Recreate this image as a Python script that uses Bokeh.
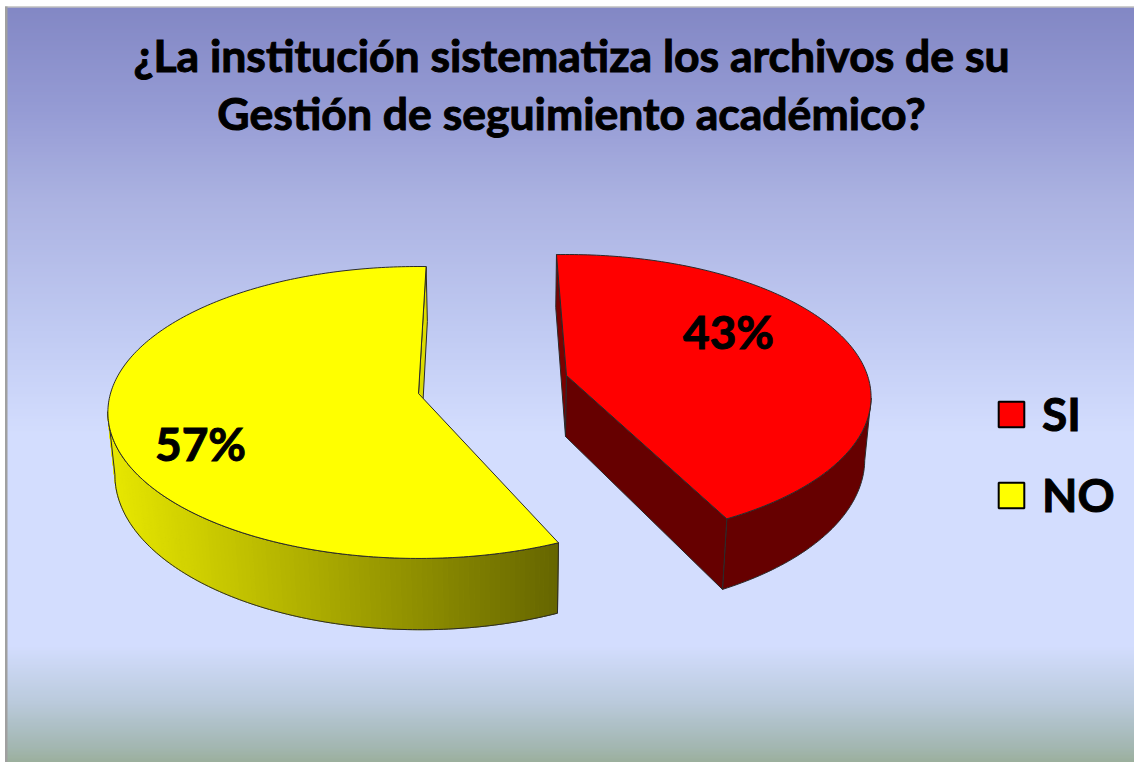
import numpy as np
from bokeh.embed import file_html
from bokeh.resources import INLINE
from bokeh.plotting import figure
from bokeh.models import Range1d, Legend, LegendItem
from bokeh.core.properties import value

# ---- data ----
title_lines = ["¿La institución sistematiza los archivos de su", "Gestión de seguimiento académico?"]
categories = ["SI", "NO"]
shares = [43, 57]
colors = ["#ff0000", "#ffff00"]

# ---- style / layout ----
FONT = "Lato"
bg_y = [7, 110, 200, 330, 430, 645, 700, 745, 762]
bg_r = [131, 150, 172, 193, 211, 211, 187, 163, 155]
bg_g = [136, 156, 179, 203, 221, 221, 203, 183, 175]
bg_b = [197, 213, 226, 243, 254, 254, 221, 178, 155]

p = figure(width=1134, height=762, x_range=Range1d(0, 1134), y_range=Range1d(762, 0),
           toolbar_location=None, output_backend="svg", min_border=0,
           x_axis_location=None, y_axis_location=None, outline_line_color=None,
           background_fill_color="white", border_fill_color="white")
p.grid.visible = False

# background gradient
ys = np.arange(7, 762, 2.0)
hex_bg = ["#%02x%02x%02x" % (int(np.interp(y, bg_y, bg_r)), int(np.interp(y, bg_y, bg_g)), int(np.interp(y, bg_y, bg_b))) for y in ys]
p.quad(left=6, right=1134, top=ys, bottom=ys + 2.4, fill_color=hex_bg, line_color=None)
# chart-area border
p.quad(left=4.5, right=7, top=6, bottom=762, fill_color="#a0a0a0", line_color=None)
p.quad(left=4.5, right=1134, top=6, bottom=7, fill_color="#a0a0a0", line_color=None)


def project(theta, geo):
    """theta: degrees clockwise from the back of the pie -> top rim and bottom rim screen coordinates."""
    t = np.radians(theta)
    s = 1 + geo["k"] * np.cos(t)
    x = geo["cx"] + geo["a"] * np.sin(t) / s
    y = geo["cy"] - geo["b"] * np.cos(t) / s
    d = geo["depth"] / s
    return x, y, x + (507 - x) * 0.00028 * d, y + d


def apex(geo):
    d = geo["depth"]
    return geo["cx"], geo["cy"], geo["cx"] + (507 - geo["cx"]) * 0.00028 * d, geo["cy"] + d


EDGE = "#2a2a2a"
geo_si = dict(cx=566, cy=375, a=301, b=139.5, k=0.153, depth=61, start=-2.2)
geo_no = dict(cx=418, cy=393, a=308, b=143.5, k=0.13, depth=62, start=156.4)

# ---- SI slice ----
th0 = geo_si["start"]
th = np.linspace(th0, th0 + shares[0] * 3.6, 160)
x, y, xb, yb = project(th, geo_si)
ax, ay, axb, ayb = apex(geo_si)
it, ib = int(np.argmax(x)), int(np.argmax(xb))
p.patch(list(x[it:]) + list(xb[ib:][::-1]), list(y[it:]) + list(yb[ib:][::-1]), fill_color="#660000", line_color=EDGE, line_width=1)
p.patch([x[0], xb[0], axb, ax], [y[0], yb[0], ayb, ay], fill_color="#7a0000", line_color=EDGE, line_width=1)
p.patch([ax, x[-1], xb[-1], axb], [ay, y[-1], yb[-1], ayb], fill_color="#660000", line_color=EDGE, line_width=1)
p.patch([ax] + list(x), [ay] + list(y), fill_color=colors[0], line_color=EDGE, line_width=1)

# ---- NO slice ----
th0 = geo_no["start"]
th = np.linspace(th0, th0 + shares[1] * 3.6, 240)
x, y, xb, yb = project(th, geo_no)
ax, ay, axb, ayb = apex(geo_no)
it, ib = int(np.argmin(x)), int(np.argmin(xb))
sil_x = list(x[:it + 1]) + list(xb[:ib + 1][::-1])
sil_y = list(y[:it + 1]) + list(yb[:ib + 1][::-1])
# start-side sliver (the part that shows at the back)
p.patch([x[-1], xb[-1], axb, ax], [y[-1], yb[-1], ayb, ay], fill_color="#dcdc00", line_color=EDGE, line_width=1)
# rim with horizontal shading
side_x = [107, 557]
side_level = [232, 102]
p.patch(sil_x, sil_y, fill_color="#e8e800", line_color=None)
for i in range(it):
    lv = int(np.interp((x[i] + x[i + 1]) / 2, side_x, side_level))
    c = "#%02x%02x00" % (lv, lv)
    p.patch([x[i], x[i + 1], xb[i + 1], xb[i]], [y[i], y[i + 1], yb[i + 1], yb[i]], fill_color=c, line_color=c, line_width=1)
p.patch(sil_x, sil_y, fill_color=None, line_color=EDGE, line_width=1)
p.patch([ax] + list(x), [ay] + list(y), fill_color=colors[1], line_color=EDGE, line_width=1)

# ---- texts ----
p.text(x=[571, 571], y=[54, 112], text=title_lines, text_align="center", text_baseline="alphabetic",
       text_font=value(FONT), text_font_style="bold", text_font_size="44.5px", text_color="black",
       text_outline_color="black")
p.text(x=[728, 200], y=[331, 443], text=[f"{v}%" for v in shares], text_align="center", text_baseline="alphabetic",
       text_font=value(FONT), text_font_style="bold", text_font_size="46px", text_color="black",
       text_outline_color="black")

# ---- legend (keys are drawn from proxies that sit outside the visible ranges) ----
items = []
for cat, col in zip(categories, colors):
    r = p.quad(left=[-60], right=[-40], top=[-60], bottom=[-40], fill_color=col, line_color="black", line_width=2)
    items.append(LegendItem(label=cat, renderers=[r]))
legend = Legend(items=items, location=(995, 240), orientation="vertical", padding=0, margin=0, spacing=26,
                glyph_width=32, glyph_height=32, label_standoff=15, label_height=30,
                label_text_font=FONT, label_text_font_style="bold", label_text_font_size="46px",
                label_text_baseline="middle", label_text_color="black", label_text_outline_color="black",
                background_fill_alpha=0, border_line_color=None)
p.add_layout(legend, "center")

open("out.html", "w").write(file_html(p, INLINE))
